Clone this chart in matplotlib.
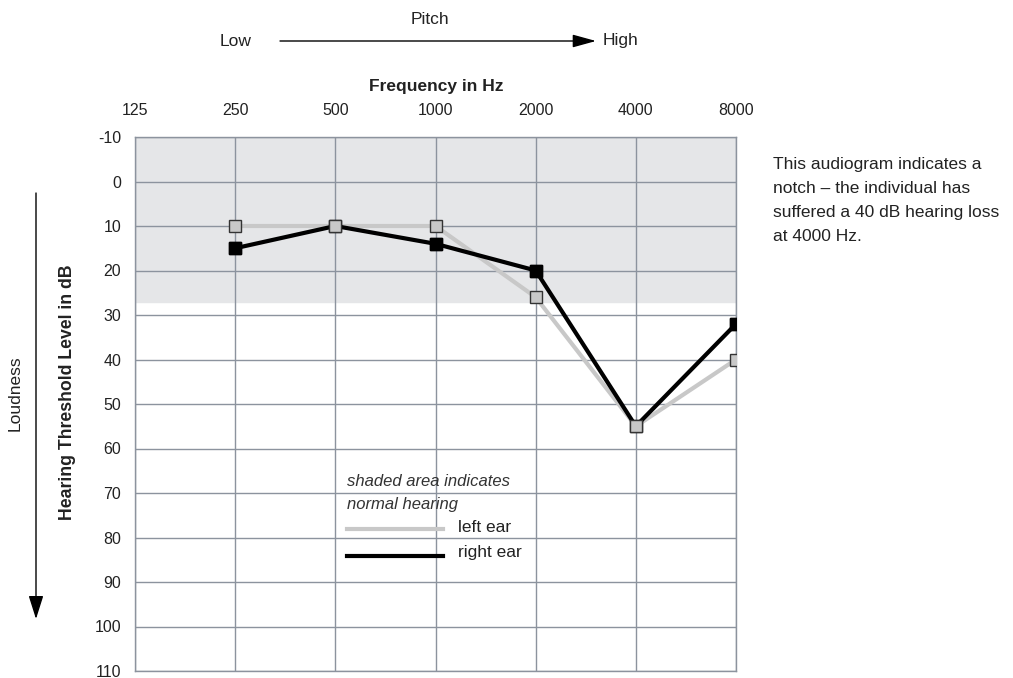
import matplotlib
matplotlib.use('Agg')
import matplotlib.pyplot as plt

# Data
freqs = [125, 250, 500, 1000, 2000, 4000, 8000]
freq_labels = ['125', '250', '500', '1000', '2000', '4000', '8000']
db_ticks = list(range(-10, 111, 10))
test_freqs = [250, 500, 1000, 2000, 4000, 8000]
left_ear = [10, 10, 10, 26, 55, 40]
right_ear = [15, 10, 14, 20, 55, 32]
normal_limit = 27

plt.rcParams['font.family'] = ['Liberation Sans', 'DejaVu Sans']
GRID = '#8c939e'
TXT = '#222222'

fig = plt.figure(figsize=(10.13, 6.78), dpi=100)
ax = fig.add_axes([135 / 1013, 1 - 671 / 678, 601 / 1013, 534 / 678])

ax.set_xscale('log', base=2)
ax.set_xlim(freqs[0], freqs[-1])
ax.set_ylim(110, -10)

# Shaded normal hearing band
ax.axhspan(-10, normal_limit, color='#e5e6e8', zorder=0)

ax.set_xticks(freqs)
ax.set_xticklabels(freq_labels)
ax.set_xticks([], minor=True)
ax.set_yticks(db_ticks)
ax.set_yticklabels([str(v) for v in db_ticks])
ax.xaxis.tick_top()
ax.tick_params(axis='both', length=0, labelsize=11.5, colors=TXT)
ax.tick_params(axis='x', pad=14)
ax.tick_params(axis='y', pad=10)
ax.grid(True, color=GRID, linewidth=1, zorder=1)
for sp in ax.spines.values():
    sp.set_color(GRID)
    sp.set_linewidth(1)

# Lines
ax.plot(test_freqs, left_ear, color='#c8c8c8', linewidth=3, zorder=3)
ax.plot(test_freqs, right_ear, color='black', linewidth=3, zorder=4,
        marker='s', markersize=8, markerfacecolor='black', markeredgecolor='black')
ax.plot(test_freqs, left_ear, linestyle='none', marker='s', markersize=8,
        markerfacecolor='#c8c8c8', markeredgecolor='#333333', markeredgewidth=1, zorder=5)
# right ear markers that don't overlap sit on top
ax.plot([test_freqs[i] for i in (0, 2, 3, 5)], [right_ear[i] for i in (0, 2, 3, 5)],
        linestyle='none', marker='s', markersize=8, color='black', zorder=6)


def fx(px):
    return px / 1013


def fy(py):
    return 1 - py / 678


# Legend drawn by hand inside the plot
fig.text(fx(347), fy(481), 'shaded area indicates', fontsize=12, style='italic',
         color='#333333', va='center', ha='left')
fig.text(fx(347), fy(505), 'normal hearing', fontsize=12, style='italic',
         color='#333333', va='center', ha='left')
fig.add_artist(plt.Line2D([fx(347), fx(443)], [fy(529), fy(529)], color='#c8c8c8',
                          linewidth=3, transform=fig.transFigure))
fig.add_artist(plt.Line2D([fx(347), fx(443)], [fy(556), fy(556)], color='black',
                          linewidth=3, transform=fig.transFigure))
fig.text(fx(458), fy(527), 'left ear', fontsize=12.5, color=TXT, va='center', ha='left')
fig.text(fx(458), fy(552), 'right ear', fontsize=12.5, color=TXT, va='center', ha='left')

# Header
fig.text(fx(430), fy(20), 'Pitch', fontsize=12.5, color=TXT, ha='center', va='center')
fig.text(fx(236), fy(41), 'Low', fontsize=12.5, color=TXT, ha='center', va='center')
fig.text(fx(620), fy(41), 'High', fontsize=12.5, color=TXT, ha='center', va='center')
fig.add_artist(matplotlib.patches.FancyArrowPatch(
    (fx(280), fy(41)), (fx(596), fy(41)), transform=fig.transFigure,
    arrowstyle='-|>,head_length=1.2,head_width=0.33', mutation_scale=12,
    shrinkA=0, shrinkB=0, color='black', linewidth=1))
fig.text(fx(436), fy(86), 'Frequency in Hz', fontsize=12.5, fontweight='bold',
         color=TXT, ha='center', va='center')

# Left side labels
fig.text(fx(68), fy(392), 'Hearing Threshold Level in dB', fontsize=12.7, fontweight='bold',
         rotation=90, color=TXT, ha='center', va='center')
fig.text(fx(15), fy(393), 'Loudness', fontsize=12.5, rotation=90, color=TXT,
         ha='center', va='center')
fig.add_artist(matplotlib.patches.FancyArrowPatch(
    (fx(36), fy(193)), (fx(36), fy(619)), transform=fig.transFigure,
    arrowstyle='-|>,head_length=1.2,head_width=0.38', mutation_scale=12,
    shrinkA=0, shrinkB=0, color='black', linewidth=1))

# Note on right
fig.text(fx(773), fy(157), 'This audiogram indicates a\nnotch \u2013 the individual has\n'
         'suffered a 40 dB hearing loss\nat 4000 Hz.', fontsize=12.5, color=TXT,
         ha='left', va='top', linespacing=1.75)

fig.savefig('out.png', dpi=100)
